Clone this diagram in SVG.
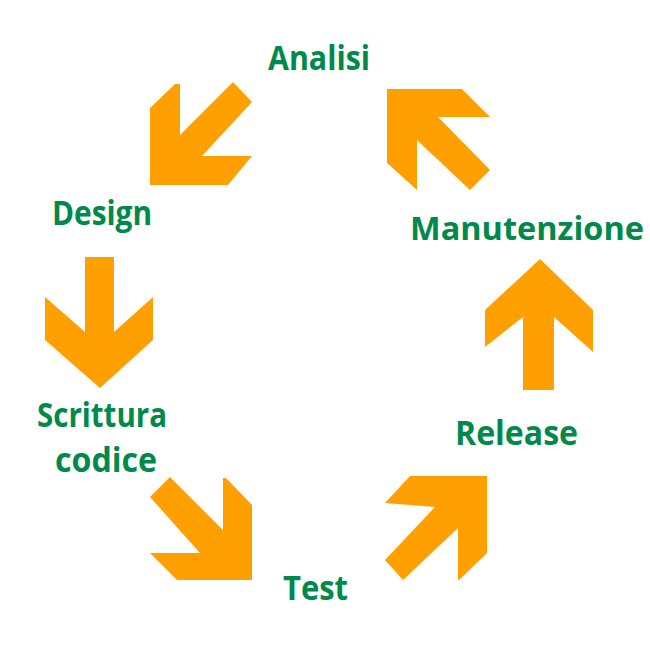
<svg xmlns="http://www.w3.org/2000/svg" width="650" height="650" viewBox="0 0 650 650">
<style>
.lbl{font-family:"Open Sans","Liberation Sans",sans-serif;font-weight:bold;font-size:34px;fill:#00894A}
.arr{fill:#FFA000;stroke:none}
</style>
<rect width="650" height="650" fill="#ffffff"/>
<g id="node-analisi"><text class="lbl" x="268" y="70" textLength="102" lengthAdjust="spacingAndGlyphs">Analisi</text></g>
<g id="node-design"><text class="lbl" x="52" y="225" textLength="100" lengthAdjust="spacingAndGlyphs">Design</text></g>
<g id="node-scrittura"><text class="lbl" x="37" y="427" textLength="130" lengthAdjust="spacingAndGlyphs">Scrittura</text><text class="lbl" x="55" y="472" textLength="102" lengthAdjust="spacingAndGlyphs">codice</text></g>
<g id="node-test"><text class="lbl" x="283" y="600" textLength="65" lengthAdjust="spacingAndGlyphs">Test</text></g>
<g id="node-release"><text class="lbl" x="455" y="445" textLength="123" lengthAdjust="spacingAndGlyphs">Release</text></g>
<g id="node-manutenzione"><text class="lbl" x="410" y="240" style="font-size:32px" textLength="234" lengthAdjust="spacingAndGlyphs">Manutenzione</text></g>
<g id="connectors">
<polygon class="arr" points="150,108 175,84 180,84 180,135 233,82 252,102 202,156 252,156 228,185 150,185"/>
<polygon class="arr" points="85,257 114,257 114,332 153,297 153,340 100,388 45,340 45,297 85,332"/>
<polygon class="arr" points="150,497 170,477 223,530 223,478 226,478 252,505 252,580 177,580 150,553 200,553"/>
<polygon class="arr" points="410,476 487,476 487,553 459,580 458,580 458,528 403,580 385,560 435,507 385,503"/>
<polygon class="arr" points="540,259 593,310 593,352 554,317 554,390 523,390 523,317 485,347 485,310"/>
<polygon class="arr" points="387,89 462,89 490,117 438,117 490,170 470,190 417,140 417,190 387,163"/>
</g>
</svg>
